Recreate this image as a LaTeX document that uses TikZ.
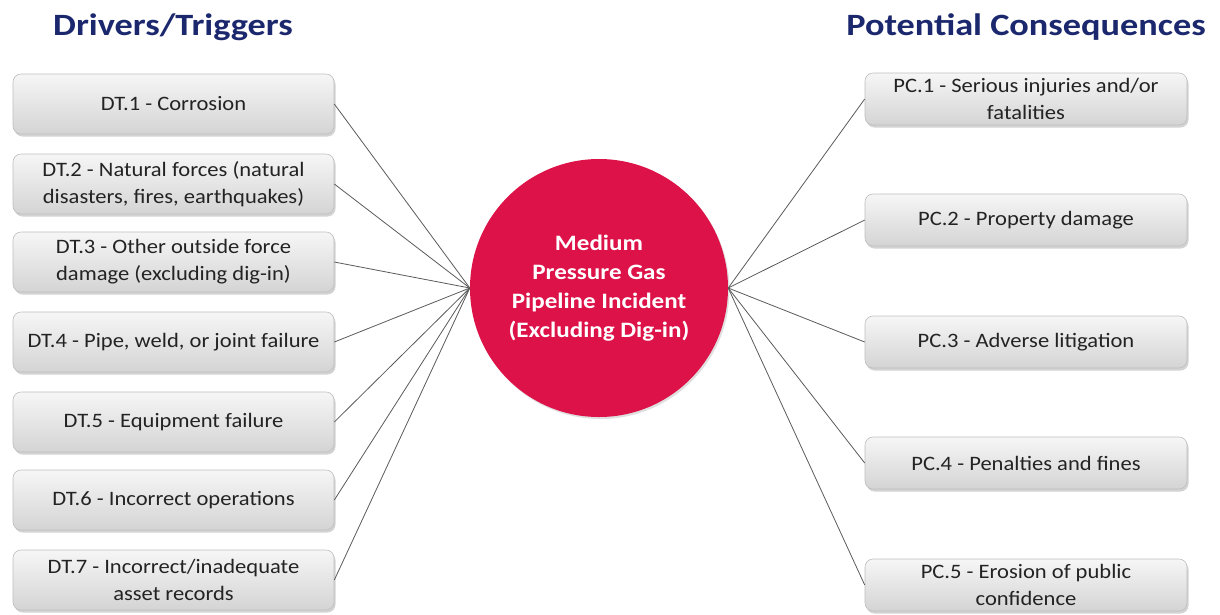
\documentclass[tikz,border=0pt]{standalone}
\usepackage{fontspec}
\setmainfont{Carlito}
\newfontfamily\boxfont{Carlito}[FakeStretch=1.1]
\newfontfamily\hubfont{Carlito}[FakeStretch=1.14]
\newfontfamily\headfont{Carlito}[FakeStretch=1.17]
\usetikzlibrary{shadows,fadings}
\definecolor{headblue}{RGB}{28,40,110}
\definecolor{hubred}{RGB}{221,18,72}
\definecolor{boxtop}{RGB}{246,246,246}
\definecolor{boxbot}{RGB}{212,212,212}
\definecolor{boxline}{RGB}{190,190,190}
\definecolor{txtgrey}{RGB}{35,35,35}
\definecolor{linkgrey}{RGB}{90,90,90}
\tikzset{
  heading/.style={font=\headfont\fontsize{31}{34}\selectfont\bfseries, text=headblue, anchor=center},
  itembox/.style={rectangle, rounded corners=8pt, draw=boxline, line width=0.6pt,
    top color=boxtop, bottom color=boxbot, text=txtgrey, align=center,
    font=\boxfont\fontsize{20.5}{27}\selectfont, inner sep=0pt,
    drop shadow={shadow xshift=1.5pt, shadow yshift=-2.5pt, opacity=0.35}},
  leftbox/.style={itembox, minimum width=321pt, minimum height=60pt},
  rightbox/.style={itembox, minimum width=322pt, minimum height=52pt},
  hub/.style={circle, fill=hubred, minimum size=258pt, inner sep=0pt, text=white,
    align=center, font=\hubfont\fontsize{22}{29}\selectfont\bfseries,
    drop shadow={shadow xshift=1.5pt, shadow yshift=-2pt, opacity=0.25}},
  link/.style={draw=linkgrey, line width=0.8pt}
}
\begin{document}
\begin{tikzpicture}[x=1pt,y=-1pt]
\useasboundingbox (0,0) rectangle (1220,614);

% column headings
\node[heading] (hl) at (173,27) {Drivers/Triggers};
\node[heading] (hr) at (1026,27) {Potential Consequences};

% central event
\node[hub] (hubnode) at (599,288) {Medium\\Pressure Gas\\Pipeline Incident\\(Excluding Dig-in)};

% drivers / triggers
\node[leftbox] (dt1) at (173.5,104) {DT.1 - Corrosion};
\node[leftbox] (dt2) at (173.5,184) {DT.2 - Natural forces (natural\\disasters, fires, earthquakes)};
\node[leftbox] (dt3) at (173.5,262) {DT.3 - Other outside force\\damage (excluding dig-in)};
\node[leftbox] (dt4) at (173.5,342) {DT.4 - Pipe, weld, or joint failure};
\node[leftbox] (dt5) at (173.5,422) {DT.5 - Equipment failure};
\node[leftbox] (dt6) at (173.5,500) {DT.6 - Incorrect operations};
\node[leftbox] (dt7) at (173.5,580) {DT.7 - Incorrect/inadequate\\asset records};

% potential consequences
\node[rightbox] (pc1) at (1026,99) {PC.1 - Serious injuries and/or\\fatalities};
\node[rightbox] (pc2) at (1026,220) {PC.2 - Property damage};
\node[rightbox] (pc3) at (1026,342) {PC.3 - Adverse litigation};
\node[rightbox] (pc4) at (1026,463) {PC.4 - Penalties and fines};
\node[rightbox] (pc5) at (1026,585) {PC.5 - Erosion of public\\confidence};

% connectors
\foreach \n in {dt1,dt2,dt3,dt4,dt5,dt6,dt7}
  \draw[link] (\n.east) -- (hubnode.west);
\foreach \n in {pc1,pc2,pc3,pc4,pc5}
  \draw[link] (hubnode.east) -- (\n.west);
\end{tikzpicture}
\end{document}
